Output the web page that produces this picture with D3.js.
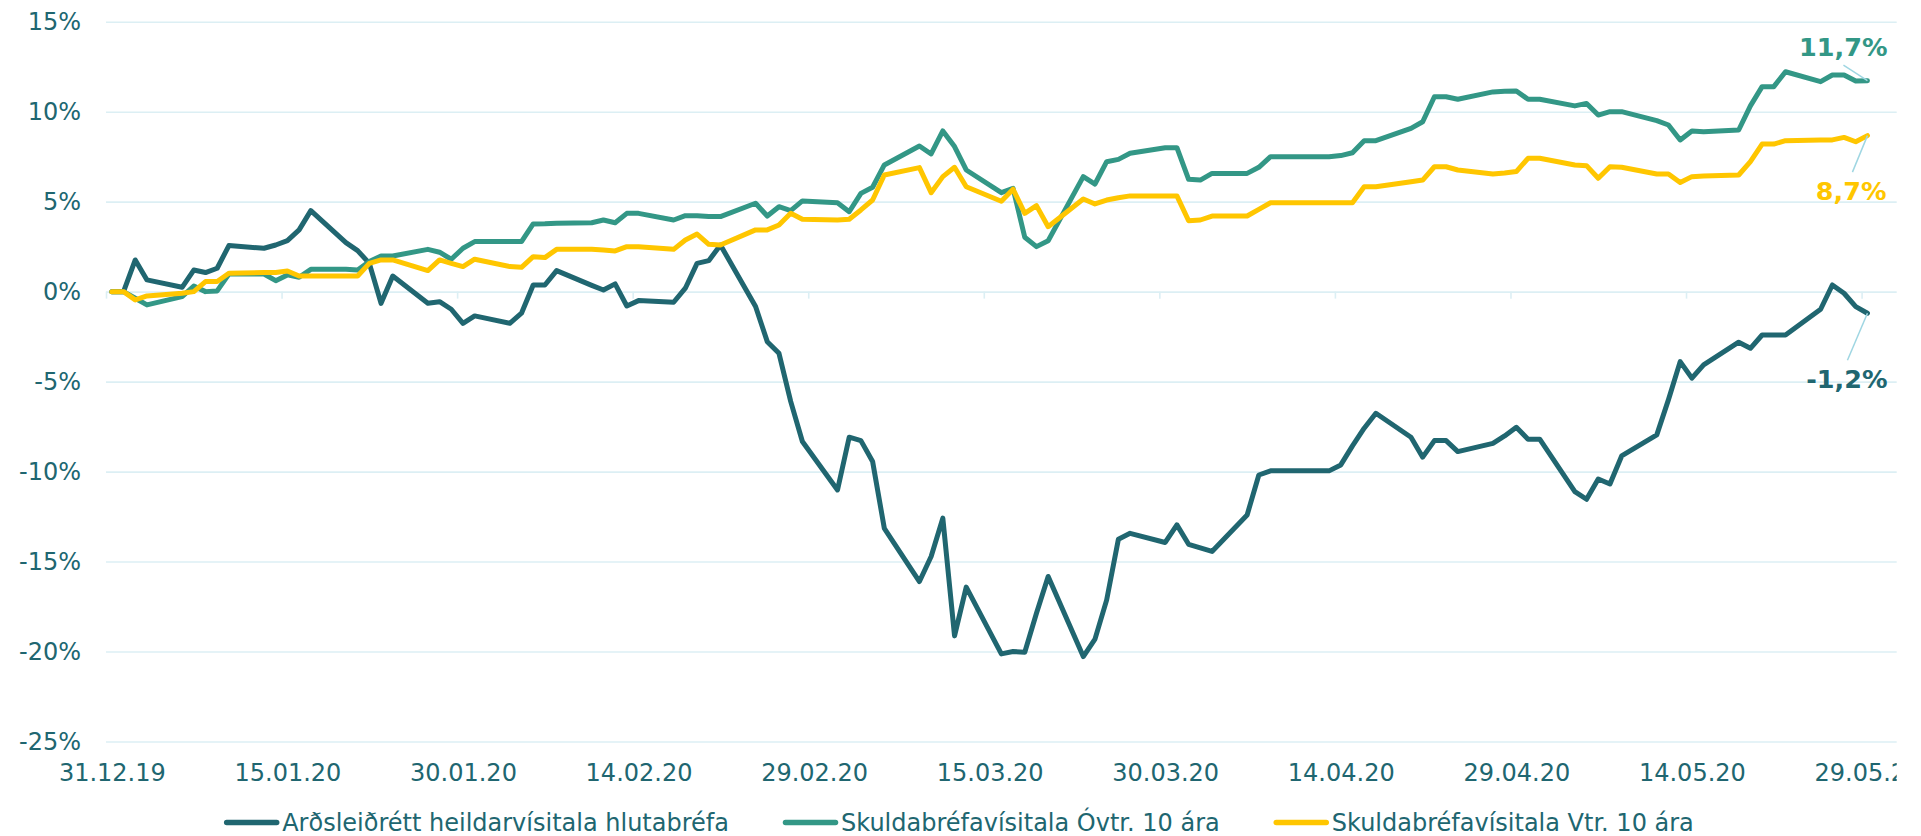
<!DOCTYPE html>
<html>
<head>
<meta charset="utf-8">
<script src="https://cdn.jsdelivr.net/npm/d3@7"></script>
<style>
  body { margin: 0; background: #fff; }
  svg { display: block; }
  text { font-family: "DejaVu Sans", Verdana, sans-serif; }
</style>
</head>
<body>
<div id="chart"></div>
<script>
// series names, in drawing order
const seriesNames = [
  'Arðsleiðrétt heildarvísitala hlutabréfa',
  'Skuldabréfavísitala Óvtr. 10 ára',
  'Skuldabréfavísitala Vtr. 10 ára'
];

// one value per weekday, 31.12.19 - 29.05.20 (% change)
const stockValues = [
  0, 0, 1.76, 0.65, 0.24, 1.2, 1.06, 1.3, 2.56, 2.41, 2.59, 2.83, 3.43, 4.5, 2.72, 2.28,
  1.57, -0.65, 0.87, -0.65, -0.56, -0.98, -1.76, -1.35,
  -1.76, -1.2, 0.37, 0.37, 1.17, 0.35, 0.09, 0.43, -0.8, -0.5, -0.59, 0.19, 1.57, 1.72, 2.59,
  -0.83, -2.78, -3.43, -6.1, -8.33,
  -11.02, -8.09, -8.28, -9.44, -13.15, -16.11, -14.72, -12.59, -19.13, -16.42,
  -20.13, -20.0, -20.04, -17.87, -15.83, -20.28, -19.31, -17.13, -13.76, -13.43, -13.94, -12.96,
  -14.04, -14.24, -14.44, -12.41, -10.19, -9.96, -9.96, -9.96, -9.96, -9.63, -8.57, -7.59, -6.76,
  -8.09, -9.2, -8.28, -8.28, -8.89, -8.43, -8.02, -7.54, -8.2,
  -8.2, -11.11, -11.54, -10.41, -10.69, -9.13, -7.96, -6.0, -3.89, -4.81, -4.07,
  -2.81, -3.15, -2.41, -2.41, -2.41, -0.98, 0.37, -0.09, -0.83, -1.2
];

const nominalValues = [
  0, 0, -0.37, -0.74, -0.28, 0.31, 0.0, 0.04, 0.98, 0.98, 0.61, 0.93, 0.8, 1.24, 1.24, 1.2,
  1.67, 1.98, 1.98, 2.35, 2.19, 1.8, 2.41, 2.78,
  2.78, 2.78, 3.76, 3.77, 3.8, 3.83, 3.98, 3.83, 4.35, 4.35, 3.98, 4.22, 4.22, 4.17, 4.17,
  4.91, 4.2, 4.72, 4.5, 5.04,
  4.94, 4.44, 5.46, 5.8, 7.04, 8.09, 7.65, 8.93, 8.06, 6.76,
  5.5, 5.74, 3.02, 2.5, 2.83, 6.39, 5.98, 7.22, 7.35, 7.69, 8.0, 8.0,
  6.24, 6.2, 6.57, 6.57, 6.91, 7.5, 7.5, 7.5, 7.5, 7.56, 7.72, 8.39, 8.39,
  9.07, 9.44, 10.83, 10.83, 10.69, 11.1, 11.13, 11.15, 10.69,
  10.69, 10.32, 10.46, 9.81, 10.0, 10.0, 9.5, 9.26, 8.43, 8.93, 8.89,
  8.98, 10.32, 11.39, 11.39, 12.22, 11.67, 12.04, 12.04, 11.7, 11.72
];

const indexedValues = [
  0, 0, -0.46, -0.24, -0.09, 0.0, 0.56, 0.56, 1.02, 1.06, 1.06, 1.15, 0.87, 0.87, 0.87, 0.87,
  1.57, 1.76, 1.76, 1.17, 1.76, 1.57, 1.39, 1.8,
  1.39, 1.35, 1.94, 1.89, 2.35, 2.35, 2.31, 2.26, 2.5, 2.5, 2.35, 2.87, 3.2, 2.63, 2.59,
  3.43, 3.43, 3.7, 4.35, 4.02,
  3.98, 4.02, 4.54, 5.09, 6.48, 6.89, 5.5, 6.39, 6.91, 5.83,
  5.02, 5.69, 4.35, 4.78, 3.61, 5.15, 4.87, 5.09, 5.22, 5.32, 5.32, 5.32,
  3.94, 3.98, 4.2, 4.2, 4.57, 4.94, 4.94, 4.94, 4.94, 4.94, 4.94, 5.83, 5.83,
  6.11, 6.2, 6.94, 6.94, 6.76, 6.54, 6.59, 6.67, 7.41,
  7.41, 7.04, 7.0, 6.3, 6.94, 6.91, 6.54, 6.54, 6.06, 6.39, 6.43,
  6.48, 7.22, 8.2, 8.2, 8.39, 8.43, 8.43, 8.57, 8.33, 8.67
];

const endLabels = ['-1,2%', '11,7%', '8,7%'];

const yTicks = [15, 10, 5, 0, -5, -10, -15, -20, -25];
const xTickLabels = ['31.12.19', '15.01.20', '30.01.20', '14.02.20', '29.02.20', '15.03.20',
  '30.03.20', '14.04.20', '29.04.20', '14.05.20', '29.05.20'];

const colors = ['#206670', '#339786', '#ffc600'];
const textColor = '#206670';
const gridColor = '#dceff4';
const leaderColor = '#9fd6e2';

const width = 1921, height = 836;
const plotLeft = 106, plotRight = 1896.7, plotTop = 21.7, plotBottom = 741.5;

// weekdays of the period
const dates = d3.utcDay.range(Date.UTC(2019, 11, 31), Date.UTC(2020, 4, 30))
  .filter(d => d.getUTCDay() !== 0 && d.getUTCDay() !== 6);

const parseTick = d3.utcParse('%d.%m.%y');
const tickDates = xTickLabels.map(parseTick);

const x = d3.scaleUtc()
  .domain([new Date(Date.UTC(2019, 11, 31)), new Date(Date.UTC(2020, 5, 1))])
  .range([plotLeft, plotRight]);

const y = d3.scaleLinear()
  .domain([-25, 15])
  .range([plotBottom, plotTop]);

// points sit in the middle of their day
const dayX = d => x(d3.utcHour.offset(d, 12));
const halfDay = dayX(dates[0]) - x(dates[0]);

const svg = d3.select('#chart').append('svg')
  .attr('width', width)
  .attr('height', height);

// y grid + labels
const yAxis = svg.append('g')
  .attr('transform', `translate(${plotLeft},0)`)
  .call(d3.axisLeft(y)
    .tickValues(yTicks)
    .tickSize(-(plotRight - plotLeft))
    .tickPadding(25)
    .tickFormat(d => d + '%'));
yAxis.select('.domain').remove();
yAxis.selectAll('.tick line')
  .attr('stroke', gridColor)
  .attr('stroke-width', 1.6);
yAxis.selectAll('.tick text')
  .attr('fill', textColor)
  .attr('font-size', 24)
  .attr('font-family', '"DejaVu Sans", Verdana, sans-serif');

// small ticks under the 0% line
const xTicks = svg.append('g')
  .attr('transform', `translate(0,${y(0)})`)
  .call(d3.axisBottom(x).tickValues(tickDates).tickSize(7).tickFormat(''));
xTicks.select('.domain').remove();
xTicks.selectAll('.tick line')
  .attr('stroke', gridColor)
  .attr('stroke-width', 1.6);

// date labels, clipped at the right edge like the original
svg.append('clipPath').attr('id', 'clipx')
  .append('rect')
  .attr('x', 0).attr('y', 0)
  .attr('width', plotRight).attr('height', height);

const xLabels = svg.append('g')
  .attr('clip-path', 'url(#clipx)')
  .append('g')
  .attr('transform', `translate(${halfDay},755)`)
  .call(d3.axisBottom(x).tickValues(tickDates).tickSize(0).tickPadding(9)
    .tickFormat(d3.utcFormat('%d.%m.%y')));
xLabels.select('.domain').remove();
xLabels.selectAll('.tick text')
  .attr('fill', textColor)
  .attr('font-size', 24)
  .attr('font-family', '"DejaVu Sans", Verdana, sans-serif');

// lines
const allValues = [stockValues, nominalValues, indexedValues];

const line = d3.line()
  .x((d, i) => dayX(dates[i]))
  .y(d => y(d));

svg.append('g')
  .selectAll('path')
  .data(allValues)
  .join('path')
  .attr('d', d => line(d))
  .attr('fill', 'none')
  .attr('stroke', (d, i) => colors[i])
  .attr('stroke-width', 5)
  .attr('stroke-linejoin', 'round')
  .attr('stroke-linecap', 'round');

// end labels with leader lines
const labelOffsets = [
  {lx: -20, ly: 47, tx: 20, ty: 75},
  {lx: -24, ly: -15.5, tx: 20, ty: -25},
  {lx: -15, ly: 36.5, tx: 19, ty: 64}
];
const lastIdx = dates.length - 1;
const endG = svg.append('g');
allValues.forEach((vals, i) => {
  const px = dayX(dates[lastIdx]);
  const py = y(vals[lastIdx]);
  const o = labelOffsets[i];
  endG.append('line')
    .attr('x1', px + o.lx).attr('y1', py + o.ly)
    .attr('x2', px).attr('y2', py)
    .attr('stroke', leaderColor)
    .attr('stroke-width', 1.5);
  endG.append('text')
    .attr('x', px + o.tx)
    .attr('y', py + o.ty)
    .attr('text-anchor', 'end')
    .attr('font-size', 25.5)
    .attr('font-weight', 'bold')
    .attr('fill', colors[i])
    .text(endLabels[i]);
});

// legend
const legendY = 822.5, lineLen = 55, textGap = 3, itemGap = 54;
const legend = svg.append('g');
const items = legend.selectAll('g')
  .data(seriesNames)
  .join('g');
items.append('line')
  .attr('x1', 2.5).attr('x2', lineLen - 2.5)
  .attr('y1', legendY).attr('y2', legendY)
  .attr('stroke', (d, i) => colors[i])
  .attr('stroke-width', 5.5)
  .attr('stroke-linecap', 'round');
items.append('text')
  .attr('x', lineLen + textGap)
  .attr('y', legendY + 8.5)
  .attr('font-size', 24)
  .attr('fill', textColor)
  .text(d => d);

let widths = [];
items.each(function () {
  widths.push(lineLen + textGap + d3.select(this).select('text').node().getComputedTextLength());
});
const total = d3.sum(widths) + itemGap * (widths.length - 1);
let cx = 959 - total / 2;
items.attr('transform', (d, i) => {
  const t = `translate(${cx},0)`;
  cx += widths[i] + itemGap;
  return t;
});
</script>
</body>
</html>
